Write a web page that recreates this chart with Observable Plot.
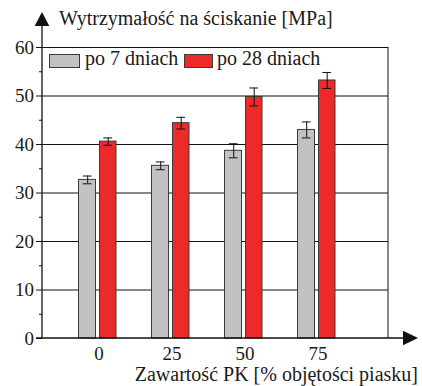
<!DOCTYPE html>
<html><head><meta charset="utf-8">
<script src="https://cdn.jsdelivr.net/npm/d3@7"></script>
<script src="https://cdn.jsdelivr.net/npm/@observablehq/plot@0.6"></script>
<style>
body{margin:0;background:#fff;font-family:'Liberation Serif';font-size:20px;}
#wrap{position:relative;width:422px;height:386px;color:#1a1a1a;line-height:20px;}
.lbl{position:absolute;white-space:nowrap;}
.sw{position:absolute;box-sizing:border-box;border:1px solid #3a3a3a;}
</style></head><body><div id="wrap"></div>
<script>
const categories = ["0", "25", "50", "75"];
const seriesNames = ["po 7 dniach", "po 28 dniach"];
const values7 = [32.7, 35.6, 38.7, 43.0];
const errors7 = [0.8, 0.8, 1.45, 1.65];
const values28 = [40.6, 44.4, 49.8, 53.2];
const errors28 = [0.75, 1.2, 1.85, 1.65];
const yTicks = [0, 10, 20, 30, 40, 50, 60];
const yMinorTicks = [5, 15, 25, 35, 45, 55];
const colors = ["#c2c2c2", "#ec2a2a"];
const yTitle = "Wytrzymałość na ściskanie [MPa]";
const xTitle = "Zawartość PK [% objętości piasku]";

const data7 = categories.map((c, i) => ({pk: c, v: values7[i], e: errors7[i]}));
const data28 = categories.map((c, i) => ({pk: c, v: values28[i], e: errors28[i]}));

const W = 422, H = 386, mL = 42, mR = 34, mT = 47, mB = 48;
const FONT = "Liberation Serif";

const plot = Plot.plot({
  width: W, height: H,
  marginTop: mT, marginBottom: mB, marginLeft: mL, marginRight: mR,
  style: {fontFamily: FONT, fontSize: "19px", color: "#1a1a1a", background: "transparent", overflow: "visible"},
  x: {type: "band", domain: categories, range: [60.4, 353.1], padding: 0},
  y: {domain: [0, 60]},
  marks: [
    Plot.ruleY(yTicks.slice(1), {stroke: "#111", strokeWidth: 1}),
    Plot.barY(data7, {x: "pk", y: "v", fill: colors[0], stroke: "#3a3a3a", strokeWidth: 1, insetLeft: 17.5, insetRight: 38.5}),
    Plot.barY(data28, {x: "pk", y: "v", fill: colors[1], stroke: "#3a3a3a", strokeWidth: 1, insetLeft: 38.5, insetRight: 18}),
    Plot.ruleX(data7, {x: "pk", y1: d => d.v - d.e, y2: d => d.v + d.e, dx: -10.3, stroke: "#111", strokeWidth: 1}),
    Plot.ruleX(data28, {x: "pk", y1: d => d.v - d.e, y2: d => d.v + d.e, dx: 10.2, stroke: "#111", strokeWidth: 1}),
    Plot.tickY(data7, {x: "pk", y: d => d.v + d.e, insetLeft: 21.8, insetRight: 42.4, stroke: "#111"}),
    Plot.tickY(data7, {x: "pk", y: d => d.v - d.e, insetLeft: 21.8, insetRight: 42.4, stroke: "#111"}),
    Plot.tickY(data28, {x: "pk", y: d => d.v + d.e, insetLeft: 42.3, insetRight: 21.9, stroke: "#111"}),
    Plot.tickY(data28, {x: "pk", y: d => d.v - d.e, insetLeft: 42.3, insetRight: 21.9, stroke: "#111"}),
    Plot.axisY({ticks: yTicks, tickSize: 6, tickPadding: 2.5, label: null, stroke: "#111", tickFormat: d => String(d), fontFamily: FONT}),
    Plot.axisY({ticks: yMinorTicks, tickSize: 3, label: null, stroke: "#111", tickFormat: () => ""}),
    Plot.axisX({tickSize: 0, tickPadding: 8, label: null, dx: 1, fontFamily: FONT})
  ]
});

const wrap = document.getElementById("wrap");
wrap.appendChild(plot);

// axes lines, arrows and right frame line
const ys = plot.scale("y");
const y0 = ys.apply(0), y60 = ys.apply(60);
const svg = d3.select(plot);
const g = svg.append("g").attr("stroke", "#111").attr("fill", "none");
const xL = mL, xR = W - mR;
g.append("line").attr("x1", xL).attr("x2", xL).attr("y1", y0).attr("y2", 25).attr("stroke-width", 1.3);
g.append("line").attr("x1", xL - 6).attr("x2", 404).attr("y1", y0).attr("y2", y0).attr("stroke-width", 1.3);
g.append("line").attr("x1", xR).attr("x2", xR).attr("y1", y60).attr("y2", y0).attr("stroke-width", 1);
svg.append("path").attr("d", `M${xL},12L${xL + 7.3},26L${xL - 7.3},26Z`).attr("fill", "#111");
svg.append("path").attr("d", `M418,${y0}L403,${y0 - 7.3}L403,${y0 + 7.3}Z`).attr("fill", "#111");

// title, legend, x label (HTML overlays)
function addLabel(text, left, top, right) {
  const d = document.createElement("div");
  d.className = "lbl";
  d.textContent = text;
  d.style.top = top + "px";
  if (right != null) d.style.right = right + "px"; else d.style.left = left + "px";
  wrap.appendChild(d);
}
function addSwatch(color, left, top, w, h) {
  const s = document.createElement("div");
  s.className = "sw";
  s.style.background = color;
  s.style.left = left + "px"; s.style.top = top + "px";
  s.style.width = w + "px"; s.style.height = h + "px";
  wrap.appendChild(s);
}
addLabel(yTitle, 59, 8.3);
addSwatch(colors[0], 49, 54, 31, 14);
addLabel(seriesNames[0], 85, 48.3);
addSwatch(colors[1], 184, 54, 29, 14);
addLabel(seriesNames[1], 217, 48.3);
addLabel(xTitle, null, 364.3, 4);
</script>
</body></html>
